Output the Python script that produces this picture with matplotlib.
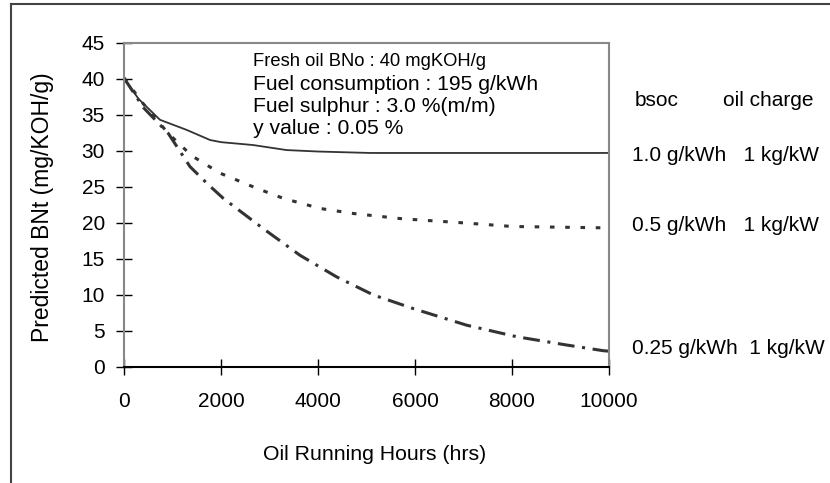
import matplotlib
matplotlib.use("Agg")
import matplotlib.pyplot as plt
from matplotlib.lines import Line2D

plt.rcParams['font.family'] = ['Liberation Sans', 'DejaVu Sans']

hours_1 = [0, 300, 742, 1292, 1773, 2000, 2660, 3354, 4000, 5072, 6000, 8000, 10000]
bn_1 = [40.1, 37.2, 34.3, 32.9, 31.5, 31.2, 30.8, 30.1, 29.9, 29.7, 29.7, 29.7, 29.7]

hours_2 = [0, 400, 914, 1400, 1979, 2735, 3285, 4041, 4729, 5691, 6103, 7000, 8000, 9000, 10000]
bn_2 = [40.1, 36.5, 32.4, 29.3, 26.9, 24.8, 23.4, 22.0, 21.3, 20.6, 20.4, 20.0, 19.5, 19.4, 19.3]

hours_3 = [0, 400, 914, 1361, 1739, 2048, 2872, 3629, 4385, 5141, 5966, 7066, 8096, 9127, 9883, 10000]
bn_3 = [40.1, 36.0, 32.4, 27.8, 25.3, 23.4, 19.2, 15.5, 12.5, 10.0, 8.1, 5.8, 4.2, 3.05, 2.26, 2.2]

series_labels = ["1.0 g/kWh   1 kg/kW", "0.5 g/kWh   1 kg/kW", "0.25 g/kWh  1 kg/kW"]
label_y = [29.4, 19.6, 2.6]

info_lines = ["Fresh oil BNo : 40 mgKOH/g", "Fuel consumption : 195 g/kWh",
              "Fuel sulphur : 3.0 %(m/m)", "y value : 0.05 %"]

x_ticks = [0, 2000, 4000, 6000, 8000, 10000]
y_ticks = [0, 5, 10, 15, 20, 25, 30, 35, 40, 45]

fig = plt.figure(figsize=(8.30, 4.83), dpi=100)
ax_l, ax_b = 124/830, 1-367/483
ax_w, ax_h = (609-124)/830, (367-42.7)/483
ax = fig.add_axes([ax_l, ax_b, ax_w, ax_h])

c = '#333333'
ax.plot(hours_1, bn_1, color=c, lw=1.3, solid_capstyle='butt')
ax.plot(hours_2, bn_2, color=c, lw=2.2, dashes=(1.5, 3.5))
ax.plot(hours_3, bn_3, color=c, lw=2.2, dashes=(5.5, 2.5, 1, 2.5))

ax.set_xlim(0, 10000)
ax.set_ylim(0, 45)
ax.set_xticks(x_ticks)
ax.set_yticks(y_ticks)
ax.tick_params(axis='both', direction='inout', length=11.5, width=1, colors='black',
               labelsize=15)
ax.tick_params(axis='x', pad=12)
ax.tick_params(axis='y', pad=8)
for s in ['left', 'top', 'right']:
    ax.spines[s].set_color('#888888')
    ax.spines[s].set_linewidth(1.5)
ax.spines['bottom'].set_color('black')
ax.spines['bottom'].set_linewidth(1.5)

ax.set_xlabel("Oil Running Hours (hrs)", fontsize=15.3, va='center')
ax.xaxis.set_label_coords((375-124)/485, -(454-367)/324.3)
ax.set_ylabel("Predicted BNt (mg/KOH/g)", fontsize=16.5, va='center')
ax.yaxis.set_label_coords(-(124-43)/485, (367-207)/324.3)

# info text
ys = [62, 84, 107, 129]
sizes = [13.2, 15.2, 15.2, 15.2]
for t, yy, fs in zip(info_lines, ys, sizes):
    fig.text(253/830, 1-yy/483, t, fontsize=fs, va='center', ha='left')

fig.text(635/830, 1-100/483, "bsoc", fontsize=15, va='center', ha='left')
fig.text(723/830, 1-100/483, "oil charge", fontsize=15, va='center', ha='left')
for lab, yv in zip(series_labels, label_y):
    fig.text(632/830, ax_b + ax_h * yv / 45, lab, fontsize=15, va='center', ha='left')

# outer border
fig.add_artist(Line2D([11/830, 1], [1-4/483, 1-4/483], transform=fig.transFigure, color='#444444', lw=1.5))
fig.add_artist(Line2D([11/830, 11/830], [1-4/483, 0], transform=fig.transFigure, color='#444444', lw=1.5))

fig.savefig("out.png", dpi=100)
